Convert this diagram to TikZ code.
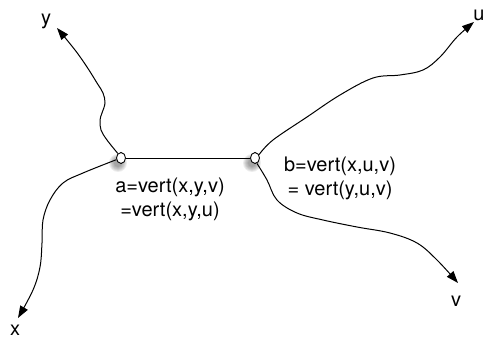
\documentclass[tikz,border=0pt]{standalone}
\usepackage{fontspec}
\setmainfont{TeX Gyre Heros}
\usetikzlibrary{arrows.meta,shapes.geometric}
\begin{document}
\begin{tikzpicture}[x=1pt,y=-1pt,
  vertex/.style={draw,fill=white,ellipse,line width=0.9pt,minimum width=9pt,minimum height=11pt,inner sep=0pt},
  curve/.style={line width=1pt,-{Triangle[length=12pt,width=8.5pt]}},
  edge/.style={line width=0.9pt},
  lbl/.style={font=\fontsize{20}{24}\selectfont,inner sep=0pt,align=center}]
\useasboundingbox (0,0) rectangle (485,339);
% shadows
\foreach \r in {9,8,7,6,5,4}{
  \fill[black,opacity=0.07] (118,163) circle (\r);
  \fill[black,opacity=0.07] (252,163) circle (\r);
}
\node[vertex] (a) at (121,158) {};
\node[vertex] (b) at (255,158) {};
\coordinate (yt) at (57,28);
\coordinate (xt) at (18,318);
\coordinate (ut) at (474,22);
\coordinate (vt) at (458,283);
\draw[edge] (a.east) -- (b.west);
\draw[curve] plot[smooth,tension=0.6] coordinates {(a.125) (107,140) (101,130) (100,120) (102,113) (105,103) (103,93) (97,83) (87,67) (75,50) (yt)};
\draw[curve] plot[smooth,tension=0.6] coordinates {(a.200) (83,173) (63,183) (50,200) (43,220) (42,243) (40,267) (33,290) (xt)};
\draw[curve] plot[smooth,tension=0.6] coordinates {(b.40) (273,140) (307,117) (340,95) (373,78) (400,75) (423,70) (440,57) (457,37) (ut)};
\draw[curve] plot[smooth,tension=0.6] coordinates {(b.290) (267,180) (277,200) (297,213) (323,220) (357,227) (390,233) (417,243) (437,260) (vt)};
\node[lbl] (ly) at (46,21) {y};
\node[lbl] (lx) at (15,330) {x};
\node[lbl] (lu) at (479,15) {u};
\node[lbl] (lv) at (456,301) {v};
\node[lbl] (la) at (170,199) {a=vert(x,y,v)\\=vert(x,y,u)};
\node[lbl] (lb) at (340,178) {b=vert(x,u,v)\\= vert(y,u,v)};
\end{tikzpicture}
\end{document}
